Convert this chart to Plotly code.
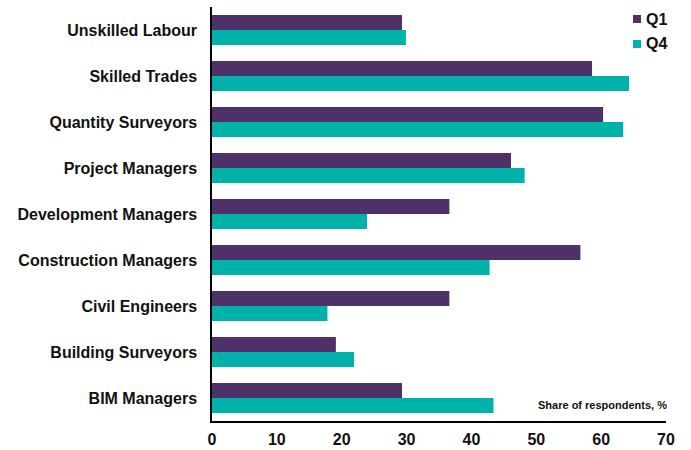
import plotly.graph_objects as go

roles = [
    "Unskilled Labour",
    "Skilled Trades",
    "Quantity Surveyors",
    "Project Managers",
    "Development Managers",
    "Construction Managers",
    "Civil Engineers",
    "Building Surveyors",
    "BIM Managers",
]
q1 = [29.3, 58.6, 60.3, 46.1, 36.6, 56.8, 36.6, 19.1, 29.3]
q4 = [29.9, 64.3, 63.4, 48.2, 23.9, 42.8, 17.8, 21.9, 43.4]
x_ticks = [0, 10, 20, 30, 40, 50, 60, 70]
series = [("Q1", q1, "#4E3169"), ("Q4", q4, "#00B2A9")]

FONT = "Arial"
INK = "#111111"
W, H = 691, 450
M = dict(l=212, r=25, t=7, b=29)
PW, PH = W - M["l"] - M["r"], H - M["t"] - M["b"]


def px_x(px):
    """Pixel column -> paper fraction."""
    return (px - M["l"]) / PW


def px_y(py):
    """Pixel row (from top) -> paper fraction."""
    return 1 - (py - M["t"]) / PH


fig = go.Figure()
for name, vals, color in series:
    fig.add_trace(go.Bar(
        name=name, y=roles, x=vals, orientation="h",
        marker=dict(color=color, line=dict(width=0)),
        showlegend=False,
    ))

# compact legend: small square swatch + bold label, top right
shapes, annotations = [], []
for i, (name, _, color) in enumerate(series):
    cy = 19 + 25 * i
    shapes.append(dict(
        type="rect", xref="paper", yref="paper",
        x0=px_x(633), x1=px_x(641), y0=px_y(cy + 4), y1=px_y(cy - 4),
        fillcolor=color, line=dict(width=0),
    ))
    annotations.append(dict(
        text=name, xref="paper", yref="paper",
        x=px_x(644), y=px_y(cy), xanchor="left", yanchor="middle",
        showarrow=False,
        font=dict(family=FONT, size=16, color=INK, weight="bold"),
    ))

annotations.append(dict(
    text="Share of respondents, %",
    xref="paper", yref="paper", x=px_x(669), y=px_y(405),
    xanchor="right", yanchor="middle", showarrow=False,
    font=dict(family=FONT, size=11, color=INK, weight="bold"),
))

fig.update_layout(
    width=W, height=H,
    margin=dict(**M, autoexpand=False),
    paper_bgcolor="white", plot_bgcolor="white",
    barmode="group", bargap=0.35, bargroupgap=0,
    font=dict(family=FONT, size=16, color=INK),
    showlegend=False,
    xaxis=dict(
        range=[0, 70], tickvals=x_ticks,
        showgrid=False, zeroline=False,
        showline=True, linecolor="#000000", linewidth=1.5,
        ticks="", ticklabelstandoff=3, automargin=False,
        tickfont=dict(family=FONT, size=16, color=INK, weight="bold"),
        fixedrange=True,
    ),
    yaxis=dict(
        autorange="reversed",
        showgrid=False, zeroline=False,
        showline=True, linecolor="#000000", linewidth=1.5,
        ticks="", ticklabelstandoff=10, automargin=False,
        tickfont=dict(family=FONT, size=16, color=INK, weight="bold"),
        fixedrange=True,
    ),
    shapes=shapes,
    annotations=annotations,
)

fig.write_html("out.html")
